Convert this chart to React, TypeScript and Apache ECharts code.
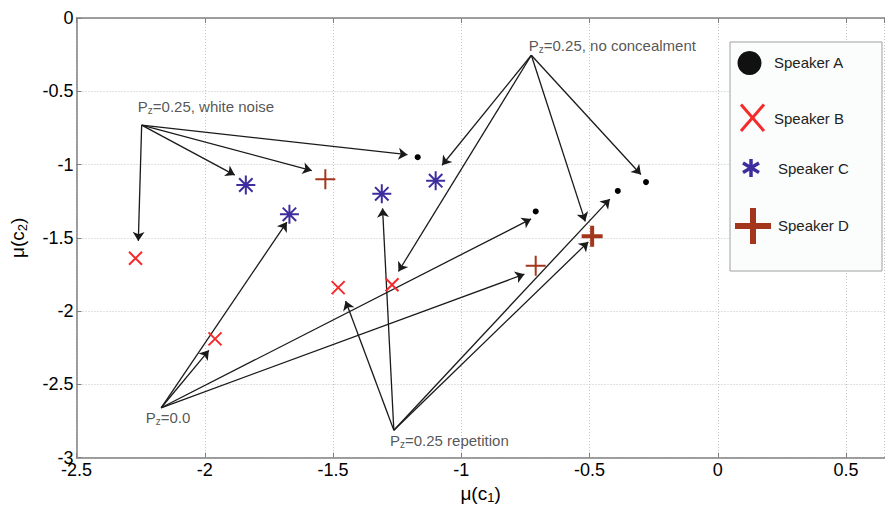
import React, { useEffect, useRef } from "react";
import * as echarts from "echarts";

// ---- data ----
const xRange = [-2.5, 0.65];
const yRange = [-3, 0];
const tickStep = 0.5;

const speakerA = [[-1.17, -0.95], [-0.28, -1.12], [-0.39, -1.18], [-0.71, -1.32]];
const speakerB = [[-2.27, -1.64], [-1.96, -2.19], [-1.48, -1.84], [-1.27, -1.82]];
const speakerC = [[-1.84, -1.14], [-1.67, -1.34], [-1.31, -1.2], [-1.1, -1.11]];
const speakerD = [[-1.53, -1.1], [-0.71, -1.69], [-0.49, -1.49]];
const speakerDEmphasised = [2]; // drawn heavier in the reference

const sourceWhiteNoise = [-2.246, -0.731];
const sourceNoConceal = [-0.727, -0.254];
const sourceZero = [-2.17, -2.66];
const sourceRepetition = [-1.263, -2.813];

const targetsWhiteNoise = [[-2.259, -1.521], [-1.883, -1.072], [-1.583, -1.041], [-1.21, -0.933]];
const targetsNoConceal = [[-1.075, -1.005], [-1.245, -1.73], [-0.517, -1.388], [-0.3, -1.068]];
const targetsZero = [[-1.984, -2.268], [-1.68, -1.393], [-0.728, -1.371], [-0.754, -1.748]];
const targetsRepetition = [[-1.451, -1.931], [-1.307, -1.299], [-0.421, -1.236], [-0.505, -1.528]];

const annotationTexts = [
  "P{sub|z}=0.25, white noise",
  "P{sub|z}=0.25, no concealment",
  "P{sub|z}=0.0",
  "P{sub|z}=0.25 repetition",
];
const annotationPos = [[-2.263, -0.606], [-0.739, -0.188], [-2.232, -2.725], [-1.28, -2.88]];

const legendNames = ["Speaker A", "Speaker B", "Speaker C", "Speaker D"];

const FONT = "Liberation Sans, Arial, Helvetica, sans-serif";
const RED = "#f52a2a";
const BLUE = "#3d2d9e";
const BROWN = "#a3361c";

const X_PATH = "path://M0,0L10,10M10,0L0,10";
const AST_PATH = "path://M5,0L5,10M0,5L10,5M1.46,1.46L8.54,8.54M8.54,1.46L1.46,8.54";
const PLUS_PATH = "path://M5,0L5,10M0,5L10,5";

export default function App() {
  const ref = useRef<HTMLDivElement>(null);

  useEffect(() => {
    if (!ref.current) return;
    const chart = echarts.init(ref.current, undefined, { renderer: "svg" });

    const arrowData = [
      ...targetsWhiteNoise.map((t) => ({ coords: [sourceWhiteNoise, t] })),
      ...targetsNoConceal.map((t) => ({ coords: [sourceNoConceal, t] })),
      ...targetsZero.map((t) => ({ coords: [sourceZero, t] })),
      ...targetsRepetition.map((t) => ({ coords: [sourceRepetition, t] })),
    ];

    const labelFmt = (v: number) =>
      Math.abs(v / tickStep - Math.round(v / tickStep)) < 1e-6 ? String(Math.round(v * 10) / 10) : "";

    const gridLine = { show: true, lineStyle: { color: "#c4c4c4", type: [1, 2] as any, width: 1 } };
    const axisLine = { show: true, onZero: false, lineStyle: { color: "#808080", width: 1.5 } };
    const axisTick = { show: true, inside: true, length: 5, lineStyle: { color: "#808080", width: 1 } };

    const legendX = 730, legendY = 42, legendW = 152, legendH = 229;
    const graphic: any[] = [
      {
        type: "rect",
        shape: { x: legendX, y: legendY, width: legendW, height: legendH },
        style: { fill: "#fbfdfd", stroke: "#a0a0a0", lineWidth: 1 },
        z: 100,
      },
      { type: "circle", shape: { cx: 749.5, cy: 63, r: 12 }, style: { fill: "#111" }, z: 101 },
      // X
      { type: "line", shape: { x1: 741, y1: 104.5, x2: 764, y2: 131 }, style: { stroke: RED, lineWidth: 3 }, z: 101 },
      { type: "line", shape: { x1: 764, y1: 104.5, x2: 741, y2: 131 }, style: { stroke: RED, lineWidth: 3 }, z: 101 },
      // asterisk
      { type: "line", shape: { x1: 751, y1: 159, x2: 751, y2: 177 }, style: { stroke: BLUE, lineWidth: 3.5 }, z: 101 },
      { type: "line", shape: { x1: 743, y1: 163, x2: 759, y2: 172.5 }, style: { stroke: BLUE, lineWidth: 3.5 }, z: 101 },
      { type: "line", shape: { x1: 759, y1: 163, x2: 743, y2: 172.5 }, style: { stroke: BLUE, lineWidth: 3.5 }, z: 101 },
      // plus
      { type: "line", shape: { x1: 735, y1: 226, x2: 771, y2: 226 }, style: { stroke: BROWN, lineWidth: 6 }, z: 101 },
      { type: "line", shape: { x1: 753, y1: 208, x2: 753, y2: 244 }, style: { stroke: BROWN, lineWidth: 6 }, z: 101 },
      ...legendNames.map((n, i) => ({
        type: "text",
        x: i < 2 ? 774 : 778,
        y: [62.5, 118.5, 168.5, 225][i],
        style: { text: n, font: `15px ${FONT}`, fill: "#222", textVerticalAlign: "middle" },
        z: 101,
      })),
    ];

    const richSub = {
      sub: { fontSize: 10, fontFamily: FONT, color: "#2a2a2a", padding: [8, 0, 0, 0] },
    };

    chart.setOption({
      animation: false,
      grid: { left: 74, top: 18, right: 0.4, bottom: 45, containLabel: false },
      xAxis: [
        {
          type: "value",
          min: xRange[0],
          max: xRange[1],
          interval: tickStep,
          axisLine,
          axisTick,
          splitLine: gridLine,
          axisLabel: { formatter: labelFmt, fontSize: 18, color: "#000", fontFamily: FONT, margin: 3, showMaxLabel: false },
          name: "μ(c{sub|1})",
          nameLocation: "middle",
          nameGap: 19,
          nameTextStyle: {
            fontSize: 19,
            color: "#000",
            fontFamily: FONT,
            rich: { sub: { fontSize: 13, fontFamily: FONT, color: "#000", padding: [9, 0, 0, 0] } },
          },
        },
        {
          type: "value",
          position: "top",
          min: xRange[0],
          max: xRange[1],
          interval: tickStep,
          axisLine,
          axisTick,
          splitLine: { show: false },
          axisLabel: { show: false },
        },
      ],
      yAxis: {
        type: "value",
        min: yRange[0],
        max: yRange[1],
        interval: tickStep,
        axisLine,
        axisTick,
        splitLine: gridLine,
        axisLabel: { formatter: labelFmt, fontSize: 18, color: "#000", fontFamily: FONT, margin: 3 },
        name: "μ(c{sub|2})",
        nameLocation: "middle",
        nameGap: 48,
        nameTextStyle: {
          fontSize: 19,
          color: "#000",
          fontFamily: FONT,
          rich: { sub: { fontSize: 13, fontFamily: FONT, color: "#000", padding: [9, 0, 0, 0] } },
        },
      },
      series: [
        {
          type: "lines",
          coordinateSystem: "cartesian2d",
          xAxisIndex: 0,
          yAxisIndex: 0,
          symbol: ["none", "arrow"],
          symbolSize: [0, 9],
          lineStyle: { color: "#1a1a1a", width: 1.3, opacity: 1, curveness: 0 },
          data: arrowData,
          z: 3,
        },
        {
          name: "Speaker A",
          type: "scatter",
          symbol: "circle",
          symbolSize: 6,
          itemStyle: { color: "#000", opacity: 1 },
          data: speakerA,
          z: 4,
        },
        {
          name: "Speaker B",
          type: "scatter",
          symbol: X_PATH,
          symbolSize: 13,
          itemStyle: { color: "transparent", borderColor: RED, borderWidth: 2, opacity: 1 },
          data: speakerB,
          z: 4,
        },
        {
          name: "Speaker C",
          type: "scatter",
          symbol: AST_PATH,
          symbolSize: 19,
          itemStyle: { color: "transparent", borderColor: BLUE, borderWidth: 2, opacity: 1 },
          data: speakerC,
          z: 4,
        },
        {
          name: "Speaker D",
          type: "scatter",
          symbol: PLUS_PATH,
          symbolSize: 20,
          itemStyle: { color: "transparent", borderColor: BROWN, borderWidth: 2, opacity: 1 },
          data: speakerD.map((p, i) =>
            speakerDEmphasised.includes(i)
              ? { value: p, itemStyle: { borderWidth: 4 }, symbolSize: 21 }
              : { value: p }
          ),
          z: 4,
        },
        {
          type: "scatter",
          symbolSize: 1,
          itemStyle: { color: "rgba(0,0,0,0)" },
          silent: true,
          data: annotationPos.map((p, i) => ({ value: p, name: annotationTexts[i] })),
          label: {
            show: true,
            position: "right",
            distance: 0,
            formatter: (p: any) => p.name,
            fontSize: 15,
            fontFamily: FONT,
            color: "#2a2a2a",
            rich: richSub,
          },
          z: 5,
        },
      ],
      graphic,
    });

    return () => chart.dispose();
  }, []);

  return <div ref={ref} style={{ position: "absolute", left: 0, top: 0, width: 885, height: 509 }} />;
}
